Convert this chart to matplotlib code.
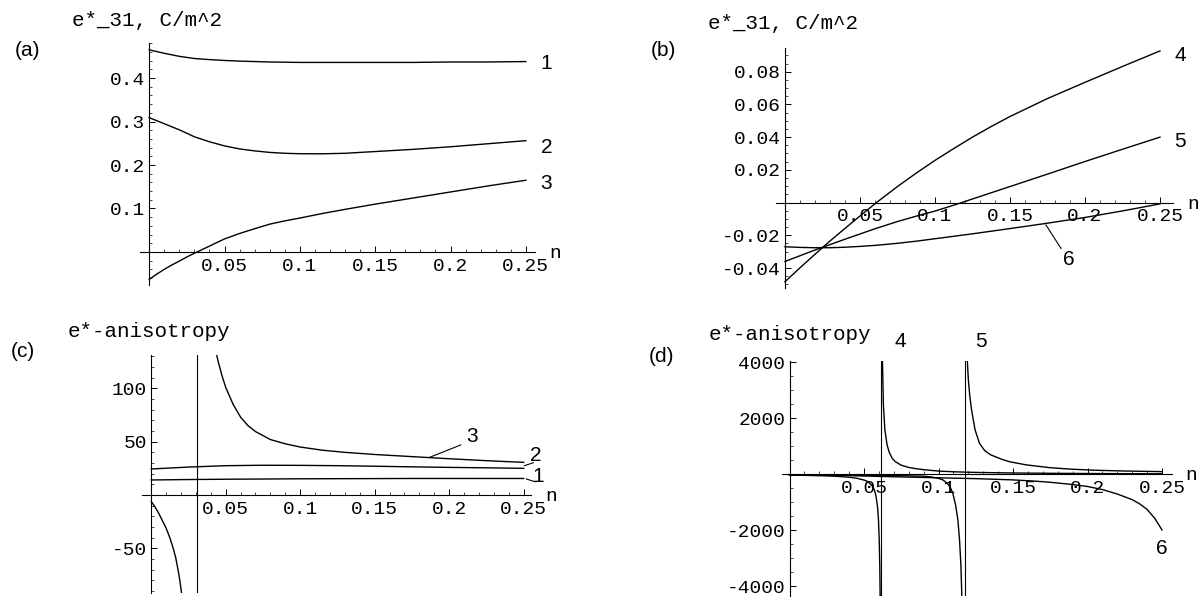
import matplotlib
matplotlib.use("Agg")
import matplotlib.pyplot as plt
from matplotlib.ticker import MultipleLocator

MONO = ["Liberation Mono", "DejaVu Sans Mono"]
SANS = ["Liberation Sans", "DejaVu Sans"]

# ---------------- Panel (a): e*_31 for curves 1-3 ----------------
n_a = [0, 0.005, 0.01, 0.015, 0.02, 0.025, 0.03, 0.04, 0.05, 0.06, 0.07, 0.08, 0.09, 0.1,
       0.115, 0.13, 0.15, 0.175, 0.2, 0.225, 0.25]
a_curve1 = [0.465, 0.461, 0.457, 0.4535, 0.450, 0.4475, 0.445, 0.4425, 0.4405, 0.439, 0.438,
            0.437, 0.4365, 0.436, 0.436, 0.436, 0.436, 0.436, 0.437, 0.437, 0.438]
a_curve2 = [0.309, 0.302, 0.295, 0.288, 0.281, 0.273, 0.265, 0.2535, 0.244, 0.237, 0.2325,
            0.229, 0.227, 0.226, 0.2258, 0.227, 0.231, 0.236, 0.242, 0.249, 0.256]
a_curve3 = [-0.063, -0.051, -0.040, -0.030, -0.021, -0.0115, -0.003, 0.0135, 0.030, 0.0425,
            0.0535, 0.064, 0.0715, 0.078, 0.0885, 0.098, 0.110, 0.124, 0.138, 0.152, 0.165]

# ---------------- Panel (b): e*_31 for curves 4-6 ----------------
n_b = [0, 0.01, 0.02, 0.03, 0.04, 0.05, 0.061, 0.075, 0.0875, 0.1, 0.1125, 0.125, 0.1375,
       0.15, 0.175, 0.2, 0.225, 0.25]
b_curve4 = [-0.0484, -0.0399, -0.0316, -0.0235, -0.0158, -0.0082, 0.0, 0.0098, 0.018, 0.0258,
            0.033, 0.040, 0.0465, 0.0526, 0.0636, 0.0735, 0.0832, 0.0927]
b_curve5 = [-0.036, -0.0325, -0.029, -0.0257, -0.0224, -0.0192, -0.0157, -0.0116, -0.0083,
            -0.0052, -0.0016, 0.0022, 0.0060, 0.0098, 0.0174, 0.0251, 0.0326, 0.040]
b_curve6 = [-0.0270, -0.0274, -0.0276, -0.0276, -0.0273, -0.0268, -0.0261, -0.0249, -0.0236,
            -0.0221, -0.0206, -0.0191, -0.0175, -0.0159, -0.0126, -0.0091, -0.0051, -0.0008]

# ---------------- Panel (c): anisotropy for curves 1-3 ----------------
n_c = [0, 0.025, 0.05, 0.075, 0.1, 0.125, 0.15, 0.175, 0.2, 0.225, 0.25]
c_curve1 = [14.1, 14.5, 14.8, 15.0, 15.2, 15.3, 15.4, 15.5, 15.5, 15.5, 15.5]
c_curve2 = [24.4, 26.2, 27.5, 27.9, 27.8, 27.5, 27.0, 26.4, 25.9, 25.5, 25.0]
c_pole3 = 0.0307
n_c3_left = [0, 0.0025, 0.005, 0.0075, 0.01, 0.0125, 0.015, 0.0165, 0.018, 0.019, 0.02, 0.021]
c_curve3_left = [-6, -11, -17, -24, -31, -40, -51, -59, -70, -78, -88, -98]
n_c3_right = [0.0425, 0.045, 0.0475, 0.05, 0.055, 0.06, 0.065, 0.07, 0.08, 0.09, 0.1, 0.115,
              0.13, 0.15, 0.175, 0.2, 0.225, 0.25]
c_curve3_right = [140, 125, 112, 101, 85, 73, 65, 59.5, 52, 48, 45, 42, 40, 38, 36, 34, 32.2, 30.6]

# ---------------- Panel (d): anisotropy for curves 4-6 ----------------
d_pole4 = 0.0612
d_pole5 = 0.1176
n_d4_left = [0, 0.01, 0.02, 0.03, 0.035, 0.04, 0.045, 0.05, 0.052, 0.054, 0.0555, 0.057, 0.058,
             0.059, 0.0597, 0.0602, 0.0606, 0.0609]
d_curve4_left = [-25, -32, -45, -62, -80, -100, -135, -200, -240, -320, -410, -560, -760, -1120,
                 -1600, -2300, -3300, -4600]
n_d4_right = [0.0622, 0.063, 0.064, 0.0655, 0.067, 0.069, 0.071, 0.075, 0.08, 0.085, 0.09, 0.1,
              0.11, 0.125, 0.15, 0.175, 0.2, 0.225, 0.25]
d_curve4_right = [4500, 2500, 1600, 1050, 780, 570, 457, 330, 250, 205, 170, 120, 95, 72, 52, 41,
                  33, 27, 23]
n_d5_left = [0, 0.03, 0.06, 0.08, 0.09, 0.095, 0.1, 0.1028, 0.106, 0.108, 0.1096, 0.1115, 0.113,
             0.1141, 0.115, 0.1158]
d_curve5_left = [-10, -20, -35, -50, -62, -90, -140, -190, -320, -470, -670, -1100, -1620, -2330,
                 -3200, -4600]
n_d5_right = [0.1188, 0.120, 0.121, 0.1222, 0.1245, 0.1275, 0.131, 0.135, 0.138, 0.143, 0.148,
              0.159, 0.175, 0.19, 0.205, 0.225, 0.25]
d_curve5_right = [4600, 3400, 2800, 2300, 1600, 1110, 850, 700, 636, 530, 450, 340, 240, 185, 150,
                  122, 100]
n_d6 = [0, 0.03, 0.06, 0.1, 0.125, 0.15, 0.165, 0.175, 0.19, 0.2, 0.21, 0.22, 0.23, 0.235, 0.24,
        0.245, 0.25]
d_curve6 = [-10, -30, -70, -120, -150, -195, -240, -280, -360, -430, -540, -700, -900, -1050,
            -1250, -1560, -1980]

# tick definitions
x_ticks = [0.05, 0.1, 0.15, 0.2, 0.25]
x_labels = ["0.05", "0.1", "0.15", "0.2", "0.25"]
a_yticks = [0.1, 0.2, 0.3, 0.4]
a_ylabels = ["0.1", "0.2", "0.3", "0.4"]
b_yticks = [-0.04, -0.02, 0.02, 0.04, 0.06, 0.08]
b_ylabels = ["-0.04", "-0.02", "0.02", "0.04", "0.06", "0.08"]
c_yticks = [-50, 50, 100]
c_ylabels = ["-50", "50", "100"]
d_yticks = [-4000, -2000, 2000, 4000]
d_ylabels = ["-4000", "-2000", "2000", "4000"]

W, H = 1201, 600
fig = plt.figure(figsize=(W / 100, H / 100), dpi=100)
fig.patch.set_facecolor("white")

LW = 1.0
TICK_FS = 14


def px_axes(left, top, right, bottom):
    return fig.add_axes([left / W, 1 - bottom / H, (right - left) / W, (bottom - top) / H])


def style(ax, xlim, ylim, yticks, ylabels, yminor):
    ax.set_xlim(*xlim)
    ax.set_ylim(*ylim)
    ax.patch.set_visible(False)
    for s in ("top", "right"):
        ax.spines[s].set_visible(False)
    for s in ("left", "bottom"):
        ax.spines[s].set_position(("data", 0))
        ax.spines[s].set_linewidth(0.8)
    ax.set_xticks(x_ticks)
    ax.set_xticklabels(x_labels, fontfamily=MONO, fontsize=TICK_FS)
    ax.set_yticks(yticks)
    ax.set_yticklabels(ylabels, fontfamily=MONO, fontsize=TICK_FS)
    ax.xaxis.set_minor_locator(MultipleLocator(0.01))
    ax.yaxis.set_minor_locator(MultipleLocator(yminor))
    ax.tick_params(which="major", direction="in", length=4, width=0.7)
    ax.tick_params(which="minor", direction="in", length=2, width=0.5)
    ax.tick_params(axis="x", which="major", pad=4)
    ax.tick_params(axis="y", which="major", pad=3)
    ax.annotate("n", xy=(1, 0), xycoords=("axes fraction", "data"), xytext=(14, -6),
                textcoords="offset pixels", ha="left", va="baseline",
                fontfamily=MONO, fontsize=TICK_FS, annotation_clip=False)


def num(ax, s, x, y):
    ax.text(x, y, s, ha="center", va="center", fontfamily=SANS, fontsize=15, clip_on=False)


# ---------------- (a) ----------------
ax_a = px_axes(140.3, 43.3, 534.9, 285)
style(ax_a, (-0.0059, 0.256), (-0.076, 0.48), a_yticks, a_ylabels, 0.02)
for ys in (a_curve1, a_curve2, a_curve3):
    ax_a.plot(n_a, ys, color="black", lw=LW)
num(ax_a, "1", 0.2636, 0.433)
num(ax_a, "2", 0.2636, 0.241)
num(ax_a, "3", 0.2636, 0.157)

# ---------------- (b) ----------------
ax_b = px_axes(776.4, 48.3, 1172.9, 288.3)
style(ax_b, (-0.0057, 0.2586), (-0.0524, 0.0943), b_yticks, b_ylabels, 0.005)
for ys in (b_curve4, b_curve5, b_curve6):
    ax_b.plot(n_b, ys, color="black", lw=LW)
num(ax_b, "4", 0.2634, 0.0902)
num(ax_b, "5", 0.2634, 0.0372)
num(ax_b, "6", 0.1895, -0.0351)
ax_b.plot([0.174, 0.184], [-0.0137, -0.0280], color="black", lw=0.8, clip_on=False)

# ---------------- (c) ----------------
ax_c = px_axes(141.5, 355, 531, 593)
style(ax_c, (-0.0065, 0.2549), (-91.9, 131.3), c_yticks, c_ylabels, 10)
ax_c.plot(n_c, c_curve1, color="black", lw=LW)
ax_c.plot(n_c, c_curve2, color="black", lw=LW)
ax_c.plot(n_c3_left, c_curve3_left, color="black", lw=LW)
ax_c.plot(n_c3_right, c_curve3_right, color="black", lw=LW)
ax_c.axvline(c_pole3, color="black", lw=0.8)
num(ax_c, "3", 0.2155, 54.7)
ax_c.plot([0.187, 0.2077], [35.4, 46.9], color="black", lw=0.8, clip_on=False)
num(ax_c, "2", 0.2583, 37.5)
ax_c.plot([0.2505, 0.2565], [27.5, 30.3], color="black", lw=0.8, clip_on=False)
num(ax_c, "1", 0.2596, 17.2)
ax_c.plot([0.2518, 0.2575], [15.0, 12.5], color="black", lw=0.8, clip_on=False)

# ---------------- (d) ----------------
ax_d = px_axes(782.2, 361, 1171.7, 596)
style(ax_d, (-0.0049, 0.2565), (-4340, 4050), d_yticks, d_ylabels, 500)
ax_d.plot(n_d4_left, d_curve4_left, color="black", lw=LW)
ax_d.plot(n_d4_right, d_curve4_right, color="black", lw=LW)
ax_d.plot(n_d5_left, d_curve5_left, color="black", lw=LW)
ax_d.plot(n_d5_right, d_curve5_right, color="black", lw=LW)
ax_d.plot(n_d6, d_curve6, color="black", lw=LW)
ax_d.axvline(d_pole4, color="black", lw=0.8)
ax_d.axvline(d_pole5, color="black", lw=0.8)
num(ax_d, "4", 0.0745, 4740)
num(ax_d, "5", 0.1285, 4740)
num(ax_d, "6", 0.25, -2635)

# ---------------- titles and panel labels ----------------
def ftext(x, y, s, **kw):
    fig.text(x / W, 1 - y / H, s, **kw)

ftext(71.7, 26, "e*_31, C/m^2", ha="left", va="baseline", fontfamily=MONO, fontsize=15)
ftext(708.5, 29.3, "e*_31, C/m^2", ha="left", va="baseline", fontfamily=MONO, fontsize=15)
ftext(67.8, 337, "e*-anisotropy", ha="left", va="baseline", fontfamily=MONO, fontsize=15)
ftext(708.5, 340, "e*-anisotropy", ha="left", va="baseline", fontfamily=MONO, fontsize=15)

ftext(27.7, 50, "(a)", ha="center", va="center", fontfamily=SANS, fontsize=15)
ftext(663, 50, "(b)", ha="center", va="center", fontfamily=SANS, fontsize=15)
ftext(23.3, 351.7, "(c)", ha="center", va="center", fontfamily=SANS, fontsize=15)
ftext(662, 356.7, "(d)", ha="center", va="center", fontfamily=SANS, fontsize=15)

fig.savefig("out.png", dpi=100, facecolor="white")
